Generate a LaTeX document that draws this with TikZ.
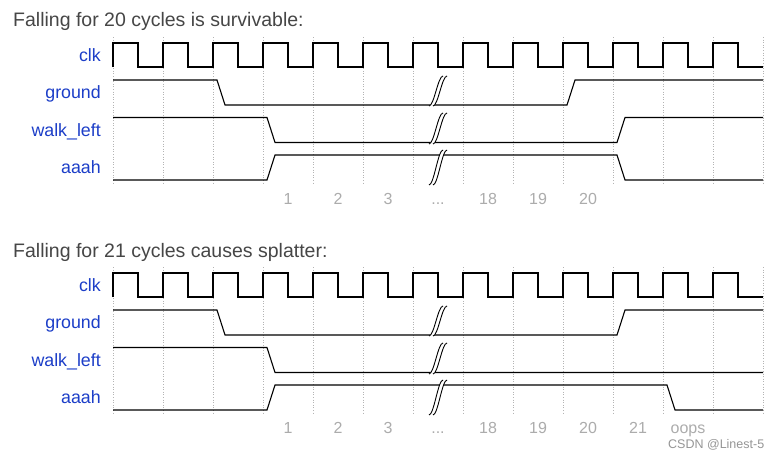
\documentclass[tikz,border=0pt]{standalone}
\usepackage{fontspec}
\setmainfont{Liberation Sans}
\usetikzlibrary{positioning}
\definecolor{wblue}{RGB}{28,62,200}
\definecolor{wnum}{RGB}{172,172,172}
\definecolor{wtitle}{RGB}{70,70,70}
\definecolor{wgrid}{RGB}{180,180,180}
\definecolor{wmark}{RGB}{150,150,150}
\newcommand{\brkmark}[3]{% x, y top, y bottom
  \fill[white] (#1-9,#3) .. controls (#1-4,#3) and (#1,#2) .. (#1+5,#2)
    -- (#1+9,#2) .. controls (#1+4,#2) and (#1,#3) .. (#1-5,#3) -- cycle;
  \draw[brk] (#1-9,#3) .. controls (#1-4,#3) and (#1,#2) .. (#1+5,#2);
  \draw[brk] (#1-5,#3) .. controls (#1,#3) and (#1+4,#2) .. (#1+9,#2);
}
\newcommand{\skipdots}{...}
\tikzset{
  sig/.style={black, line width=1.1pt},
  brk/.style={black, line width=0.9pt},
  grd/.style={wgrid, dotted, line width=0.6pt},
  slab/.style={font=\fontsize{17.8}{17.8}\selectfont, text=wblue, anchor=base east, inner sep=0pt},
  cnum/.style={font=\fontsize{16}{16}\selectfont, text=wnum, anchor=base, inner sep=0pt},
  ttl/.style={font=\fontsize{19.5}{19.5}\selectfont, text=wtitle, anchor=base west, inner sep=0pt},
  wmk/.style={font=\fontsize{12.5}{12.5}\selectfont, text=wmark, anchor=base west, inner sep=0pt},
}

\begin{document}
\begin{tikzpicture}[x=1pt, y=-1pt]
  \useasboundingbox[fill=white] (0,0) rectangle (784,455);
  % upper diagram
  \node[ttl] (ttl1) at (13,27) {Falling for 20 cycles is survivable:};
  \foreach \k in {0,...,13} \draw[grd] (113+50*\k,37) -- (113+50*\k,183);
  \node[slab] (clk1) at (101,61) {clk};
  \node[slab] (gnd1) at (101,98.5) {ground};
  \node[slab] (wlk1) at (101,136) {walk\_left};
  \node[slab] (aah1) at (101,173.5) {aaah};
  \draw[sig] (113,67) \foreach \k in {0,...,12} {
    -- (113+50*\k,43) -- (138+50*\k,43) -- (138+50*\k,67) -- (163+50*\k,67)};
  \draw[sig] (113,80) -- (217,80) -- (225,105) -- (567,105) -- (575,80) -- (763,80);
  \draw[sig] (113,117.5) -- (267,117.5) -- (275,142.5) -- (617,142.5) -- (625,117.5) -- (763,117.5);
  \draw[sig] (113,180) -- (267,180) -- (275,155) -- (617,155) -- (625,180) -- (763,180);
  \brkmark{438}{76}{106}
  \brkmark{438}{113}{144}
  \brkmark{438}{150}{185}
  \foreach \x/\t [count=\i] in {288/1, 338/2, 388/3, 438/\skipdots, 488/18, 538/19, 588/20}
    \node[cnum] (cyc1-\i) at (\x,204) {\t};

  % lower diagram
  \begin{scope}[shift={(0,230)}]
  \node[ttl] (ttl2) at (13,27) {Falling for 21 cycles causes splatter:};
  \foreach \k in {0,...,13} \draw[grd] (113+50*\k,37) -- (113+50*\k,183);
  \node[slab] (clk2) at (101,61) {clk};
  \node[slab] (gnd2) at (101,98.5) {ground};
  \node[slab] (wlk2) at (101,136) {walk\_left};
  \node[slab] (aah2) at (101,173.5) {aaah};
  \draw[sig] (113,67) \foreach \k in {0,...,12} {
    -- (113+50*\k,43) -- (138+50*\k,43) -- (138+50*\k,67) -- (163+50*\k,67)};
  \draw[sig] (113,80) -- (217,80) -- (225,105) -- (617,105) -- (625,80) -- (763,80);
  \draw[sig] (113,117.5) -- (267,117.5) -- (275,142.5) -- (763,142.5);
  \draw[sig] (113,180) -- (267,180) -- (275,155) -- (667,155) -- (675,180) -- (763,180);
  \brkmark{438}{76}{106}
  \brkmark{438}{113}{144}
  \brkmark{438}{150}{185}
  \foreach \x/\t [count=\i] in {288/1, 338/2, 388/3, 438/\skipdots, 488/18, 538/19, 588/20, 638/21, 688/oops}
    \node[cnum] (cyc2-\i) at (\x,203) {\t};
  \end{scope}
  \node[wmk] (wmk) at (668,448) {CSDN @Linest-5};
\end{tikzpicture}
\end{document}
